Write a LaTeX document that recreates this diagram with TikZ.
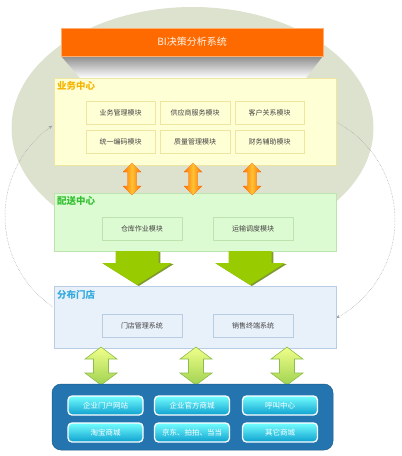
\documentclass[tikz,border=0pt]{standalone}
\usepackage{fontspec}
\newfontfamily\cjk{Noto Sans CJK SC}
\usetikzlibrary{arrows.meta}
\definecolor{ellc}{HTML}{DCE2CE}
\definecolor{orbar}{HTML}{FF6A00}
\definecolor{orbd}{HTML}{FFB070}
\definecolor{ywfill}{HTML}{FFFFD6}
\definecolor{ywbd}{HTML}{EEE6A0}
\definecolor{ywtitle}{HTML}{F5B400}
\definecolor{psfill}{HTML}{DDFBD2}
\definecolor{psbd}{HTML}{BDE3AE}
\definecolor{pstitle}{HTML}{33C033}
\definecolor{mdfill}{HTML}{E8F0FA}
\definecolor{mdbd}{HTML}{B8CCE4}
\definecolor{mdtitle}{HTML}{33AADD}
\definecolor{txt}{HTML}{444444}
\definecolor{bluebox}{HTML}{2474B0}
\definecolor{arcc}{HTML}{A0A0A0}
\definecolor{gra}{HTML}{99CC00}
\definecolor{grashadow}{HTML}{7E9A30}
\tikzset{
  bigbox/.style={draw=#1, line width=0.8pt, inner sep=0pt},
  modbox/.style={draw=#1, line width=0.6pt, font=\cjk\fontsize{7}{8}\selectfont, text=txt, inner sep=0pt},
  boxtitle/.style={anchor=north west, inner sep=0pt, font=\cjk\bfseries\fontsize{9.5}{11}\selectfont, text=#1},
  btn/.style={draw=white, line width=1.3pt, rounded corners=4pt, top color=cyan!55!white, bottom color={rgb,255:red,14;green,160;blue,207}, text=white, font=\cjk\fontsize{7.5}{9}\selectfont, minimum width=75pt, minimum height=19pt, inner sep=0pt},
  arcline/.style={draw=arcc, densely dotted, line width=0.5pt, -{Stealth[length=4pt,width=3pt]}},
}
\begin{document}
\begin{tikzpicture}[x=1pt,y=-1pt]
\useasboundingbox (0,0) rectangle (402,456);
% background ellipse
\fill[ellc] (192.5,128) ellipse[x radius=181pt, y radius=121pt];
% dotted arcs
\coordinate (lastart) at (53,307);
\coordinate (rastart) at (336,122);
\draw[arcline] (lastart) arc[start angle=235.7, end angle=124.7, radius=110pt];
\draw[arcline] (rastart) arc[start angle=62.05, end angle=-62.05, radius=111pt];
% shadow under title bar
\shade[top color=black!45, bottom color=white] (61,56) -- (323,56) -- (306,78) -- (80,78) -- cycle;
% title bar
\node[draw=orbd, line width=0.8pt, fill=orbar, minimum width=262pt, minimum height=28pt, inner sep=0pt, text=white!92!orange, font=\cjk\fontsize{10}{12}\selectfont] (bi) at (192,42) {BI决策分析系统};
% 业务中心
\node[bigbox=ywbd, fill=ywfill, minimum width=282pt, minimum height=87pt] (yw) at (195,121.5) {};
\node[boxtitle=ywtitle] (ywt) at (57,81) {业务中心};
\node[modbox=ywbd, fill=ywfill, minimum width=69pt, minimum height=23pt] (m1) at (120.5,112.5) {业务管理模块};
\node[modbox=ywbd, fill=ywfill, minimum width=70pt, minimum height=23pt] (m2) at (195,112.5) {供应商服务模块};
\node[modbox=ywbd, fill=ywfill, minimum width=69pt, minimum height=23pt] (m3) at (269.5,112.5) {客户关系模块};
\node[modbox=ywbd, fill=ywfill, minimum width=69pt, minimum height=23pt] (m4) at (120.5,142) {统一编码模块};
\node[modbox=ywbd, fill=ywfill, minimum width=70pt, minimum height=23pt] (m5) at (195,142) {质量管理模块};
\node[modbox=ywbd, fill=ywfill, minimum width=69pt, minimum height=23pt] (m6) at (269.5,142) {财务辅助模块};
% 配送中心
\node[bigbox=psbd, fill=psfill, minimum width=282pt, minimum height=58pt] (ps) at (195,222) {};
\node[boxtitle=pstitle] (pst) at (57,196) {配送中心};
\node[modbox=psbd, fill=psfill, minimum width=80pt, minimum height=23pt] (p1) at (142,228.5) {仓库作业模块};
\node[modbox=psbd, fill=psfill, minimum width=80pt, minimum height=23pt] (p2) at (253,228.5) {运输调度模块};
% 分布门店
\node[bigbox=mdbd, fill=mdfill, minimum width=282pt, minimum height=62pt] (md) at (195,317) {};
\node[boxtitle=mdtitle] (mdt) at (57,290) {分布门店};
\node[modbox=mdbd, fill=mdfill, minimum width=80pt, minimum height=23pt] (d1) at (142,325.5) {门店管理系统};
\node[modbox=mdbd, fill=mdfill, minimum width=80pt, minimum height=23pt] (d2) at (253,325.5) {销售终端系统};
% orange double arrows
\foreach \cx in {132,193,252}{
  \shade[left color=orange!90!red, right color=orange!85!red, middle color=orange!60!yellow!80!white, draw=orange!80!red, line width=0.3pt]
    (\cx,163) -- ++(9,9) -- ++(-4.5,0) -- ++(0,14) -- ++(4.5,0) -- ++(-9,9) -- ++(-9,-9) -- ++(4.5,0) -- ++(0,-14) -- ++(-4.5,0) -- cycle;
}
% green big arrows
\foreach \cx in {137,250}{
  \fill[grashadow] (\cx+1.8,252) -- ++(21.5,0) -- ++(0,12) -- ++(13.5,0) -- ++(-35,22) -- ++(-35,-22) -- ++(13.5,0) -- ++(0,-12) -- cycle;
  \fill[gra] (\cx,251) -- ++(21.5,0) -- ++(0,12) -- ++(13.5,0) -- ++(-35,22) -- ++(-35,-22) -- ++(13.5,0) -- ++(0,-12) -- cycle;
}
% light green double arrows
\foreach \cx in {101,196,287}{
  \shade[top color=white!90!green!60!yellow, bottom color={rgb,255:red,160;green,210;blue,80}, draw={rgb,255:red,140;green,190;blue,75}, line width=0.6pt]
    (\cx,347) -- ++(16,12) -- ++(-8.5,0) -- ++(0,14) -- ++(8.5,0) -- ++(-16,12) -- ++(-16,-12) -- ++(8.5,0) -- ++(0,-14) -- ++(-8.5,0) -- cycle;
}
% bottom blue box
\node[fill=bluebox, draw=bluebox!80!black, line width=0.5pt, rounded corners=9pt, minimum width=281pt, minimum height=66pt, inner sep=0pt] (bb) at (192.5,417) {};
\node[btn] (b1) at (105.5,405.5) {企业门户网站};
\node[btn] (b2) at (192,405.5) {企业官方商城};
\node[btn] (b3) at (280,405.5) {呼叫中心};
\node[btn] (b4) at (105.5,432.5) {淘宝商城};
\node[btn] (b5) at (192,432.5) {京东、拍拍、当当};
\node[btn] (b6) at (280,432.5) {其它商城};
\end{tikzpicture}
\end{document}
